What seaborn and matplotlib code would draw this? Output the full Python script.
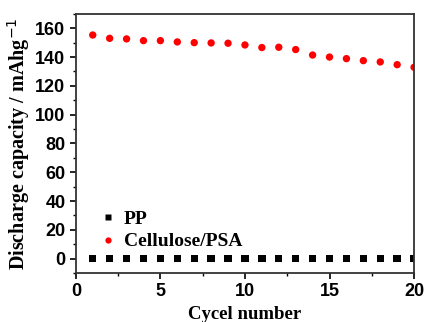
import matplotlib
matplotlib.use("Agg")
import matplotlib.pyplot as plt
import seaborn as sns
import pandas as pd
from matplotlib.ticker import MultipleLocator

cycles = list(range(1, 21))
pp = [0] * 20
cellulose = [155.3, 153.0, 152.6, 151.4, 151.4, 150.5, 150.0, 149.8, 149.6, 148.4,
             146.6, 146.8, 145.2, 141.4, 140.0, 138.9, 137.5, 136.6, 134.7, 132.9]
labels = ["PP", "Cellulose/PSA"]

df = pd.DataFrame({
    "cycle": cycles * 2,
    "capacity": pp + cellulose,
    "sample": [labels[0]] * 20 + [labels[1]] * 20,
})

sns.set_style("ticks", {"text.color": "black", "axes.labelcolor": "black",
                        "xtick.color": "black", "ytick.color": "black"})
fig = plt.figure(figsize=(4.26, 3.22), dpi=100)
ax = fig.add_axes([0.178, 0.152, 0.794, 0.805])

sns.scatterplot(data=df, x="cycle", y="capacity", hue="sample", style="sample",
                palette={labels[0]: "black", labels[1]: "red"},
                markers={labels[0]: "s", labels[1]: "o"},
                s=28, edgecolor="none", ax=ax)

ax.set_xlim(0, 20)
ax.set_ylim(-10, 170)
ax.xaxis.set_major_locator(MultipleLocator(5))
ax.xaxis.set_minor_locator(MultipleLocator(2.5))
ax.yaxis.set_major_locator(MultipleLocator(20))
ax.yaxis.set_minor_locator(MultipleLocator(10))
ax.tick_params(which="major", direction="out", length=4, width=1.2, top=False, right=False,
               colors="black")
ax.tick_params(which="minor", direction="out", length=2.5, width=1.0, colors="black")
for lab in ax.get_xticklabels() + ax.get_yticklabels():
    lab.set_family("Liberation Sans")
    lab.set_fontweight("bold")
    lab.set_fontsize(13)
    lab.set_color("black")
for sp in ax.spines.values():
    sp.set_linewidth(1.3)
    sp.set_color("#333333")

ax.set_xlabel("Cycel number", family="Liberation Serif", fontweight="bold", fontsize=13.5,
              color="black")
ax.set_ylabel("Discharge capacity / mAhg$^{-1}$", family="Liberation Serif",
              fontweight="bold", fontsize=14.5, labelpad=2, color="black")

leg = ax.legend(loc="lower left", bbox_to_anchor=(0.01, 0.02), frameon=False,
                prop={"family": "Liberation Serif", "weight": "bold", "size": 14},
                handlelength=1.2, handletextpad=0.2, labelspacing=0.25, markerscale=0.85)
for t in leg.get_texts():
    t.set_color("black")

fig.savefig("out.png", dpi=100)
